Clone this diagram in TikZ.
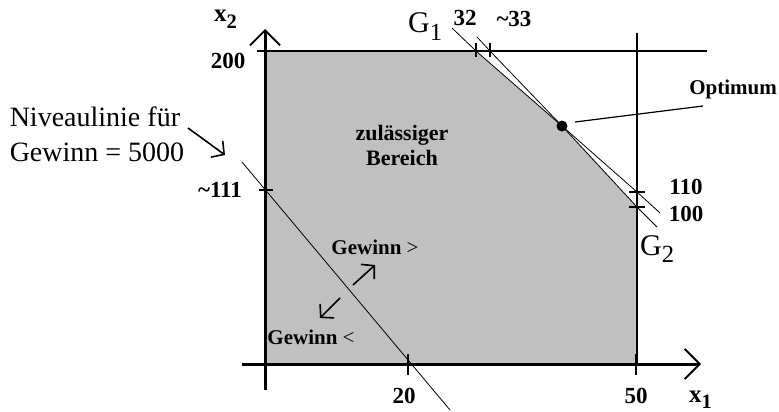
\documentclass[tikz,border=0pt]{standalone}
\usepackage{fontspec}
\setmainfont{Liberation Serif}
\usetikzlibrary{arrows.meta}
\definecolor{regiongray}{RGB}{192,192,192}
\newcommand\lowsub[1]{\raisebox{-0.26em}{\scalebox{0.82}{#1}}}

\begin{document}
\begin{tikzpicture}[x=1pt, y=-1pt, >={Straight Barb[length=9pt,width=20pt,line width=1.6pt]},
    axis/.style={line width=3pt, -{Straight Barb[length=15pt,width=30pt,line width=1.8pt]}},
    border/.style={line width=1.4pt},
    gline/.style={line width=0.8pt},
    tick/.style={line width=2.6pt},
    num/.style={font=\fontsize{23}{25}\selectfont\bfseries, inner sep=0pt},
    axlabel/.style={font=\fontsize{25}{26}\selectfont\bfseries, inner sep=0pt, anchor=base west},
    big/.style={font=\fontsize{30}{31}\selectfont, inner sep=0pt, anchor=base west}]
    \useasboundingbox (0,0) rectangle (779,412);

    % --- corner points of the feasible region ---
    \coordinate (top32) at (476,51);
    \coordinate (top33) at (490,51);
    \coordinate (opt) at (562,126);
    \coordinate (r100) at (637,207);
    \coordinate (r110) at (637,192);

    % --- feasible region ---
    \fill[regiongray] (265,51) -- (top32) -- (opt) -- (r100) -- (637,364) -- (265,364) -- cycle;
    \node[font=\fontsize{22}{25}\selectfont\bfseries, align=center] (region) at (402,145) {zulässiger\\Bereich};

    % --- restrictions ---
    \draw[border] (265,51) -- (707,51);
    \draw[border] (637,33) -- (637,364);
    \draw[gline] (452,28) -- (top32) -- (opt) -- (r100) -- (657,227);
    \draw[gline] (477,37) -- (top33) -- (opt) -- (r110) -- (660,213);
    \node[big] (g1) at (408,33) {G\lowsub{1}};
    \node[big] (g2) at (640,255) {G\lowsub{2}};

    % --- level line for Gewinn = 5000 ---
    \draw[gline] (242,162) -- (450,410);
    \node[font=\fontsize{28}{35}\selectfont, align=left] (niveau) at (97,134) {Niveaulinie für\\Gewinn = 5000};
    \coordinate (nstart) at (188,128);
    \coordinate (nend) at (225,155);
    \draw[->, line width=1.6pt] (nstart) -- (nend);

    % --- direction of the profit ---
    \node[font=\fontsize{21}{22}\selectfont, inner sep=0pt] (more) at (375,247) {\textbf{Gewinn} >};
    \node[font=\fontsize{21}{22}\selectfont, inner sep=0pt] (less) at (311,337) {\textbf{Gewinn} <};
    \coordinate (up1) at (353,285);
    \coordinate (up2) at (375,265);
    \coordinate (dn1) at (340,298);
    \coordinate (dn2) at (320,318);
    \draw[->, line width=1.6pt] (up1) -- (up2);
    \draw[->, line width=1.6pt] (dn1) -- (dn2);

    % --- optimum ---
    \fill (opt) circle (5.5pt);
    \node[font=\fontsize{21}{22}\selectfont\bfseries, inner sep=0pt] (optlabel) at (733,89) {Optimum};
    \coordinate (optfrom) at (575,122);
    \coordinate (optto) at (703,106);
    \draw[line width=1.2pt] (optfrom) -- (optto);

    % --- axes ---
    \draw[axis] (242,364) -- (701,364);
    \draw[axis] (265,390) -- (265,29);
    \node[axlabel] (x1) at (689,402) {x\lowsub{1}};
    \node[axlabel] (x2) at (214,22) {x\lowsub{2}};

    % --- ticks and values ---
    \draw[tick] (257,51) -- (273,51);
    \draw[tick] (259,190) -- (273,190);
    \draw[tick] (408,354) -- (408,375);
    \draw[tick] (636,354) -- (636,375);
    \draw[tick] (476,43) -- (476,57);
    \draw[tick] (490,43) -- (490,57);
    \draw[tick] (629,192) -- (645,192);
    \draw[tick] (629,207) -- (645,207);
    \node[num] (v200) at (228,61) {200};
    \node[num] (v111) at (220,190) {\textasciitilde111};
    \node[num] (v20) at (404,396) {20};
    \node[num] (v50) at (636,396) {50};
    \node[num] (v32) at (465,18) {32};
    \node[num] (v33) at (514,19) {\textasciitilde33};
    \node[num] (v110) at (686,187) {110};
    \node[num] (v100) at (686,214) {100};
\end{tikzpicture}
\end{document}
